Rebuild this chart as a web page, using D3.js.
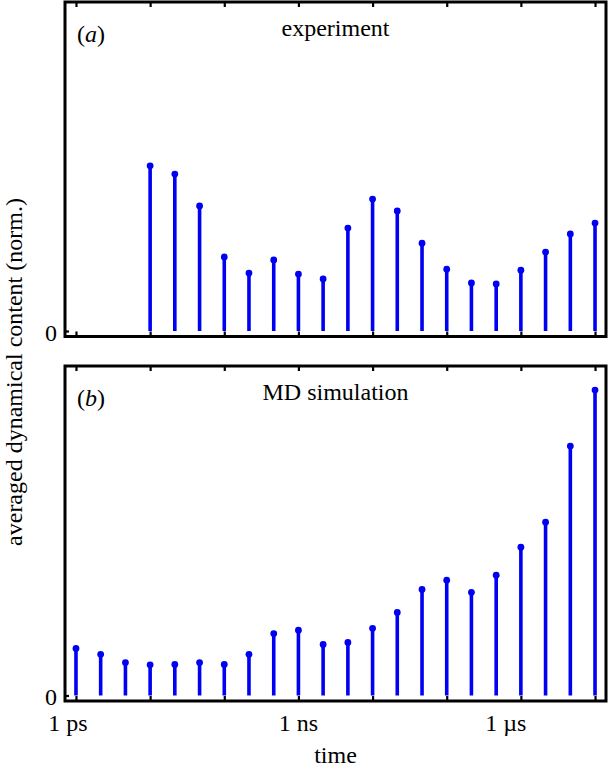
<!DOCTYPE html>
<html>
<head>
<meta charset="utf-8">
<script src="https://cdn.jsdelivr.net/npm/d3@7/dist/d3.min.js"></script>
<style>
  html, body { margin: 0; padding: 0; background: #fff; }
  svg { display: block; }
</style>
</head>
<body>
<svg id="chart" width="608" height="771"></svg>
<script>
// ---- data ----
const logTimesA = [-11, -10.667, -10.333, -10, -9.667, -9.333, -9, -8.667, -8.333, -8, -7.667, -7.333, -7, -6.667, -6.333, -6, -5.667, -5.333, -5];
const valuesA   = [0.502, 0.477, 0.380, 0.225, 0.176, 0.216, 0.173, 0.158, 0.313, 0.401, 0.365, 0.267, 0.188, 0.146, 0.143, 0.185, 0.240, 0.295, 0.328];

const logTimesB = [-12, -11.667, -11.333, -11, -10.667, -10.333, -10, -9.667, -9.333, -9, -8.667, -8.333, -8, -7.667, -7.333, -7, -6.667, -6.333, -6, -5.667, -5.333, -5];
const valuesB   = [0.143, 0.125, 0.100, 0.093, 0.094, 0.100, 0.094, 0.125, 0.188, 0.198, 0.155, 0.161, 0.204, 0.252, 0.322, 0.350, 0.313, 0.365, 0.450, 0.526, 0.757, 0.927];

const decadeTicks = [1e-12, 1e-11, 1e-10, 1e-9, 1e-8, 1e-7, 1e-6, 1e-5];
const labelTicks  = [1e-12, 1e-9, 1e-6];
const labelTexts  = ["1 ps", "1 ns", "1 µs"];
const labelShift  = [-8, 0, -15];

const panels = [
  { id: "a", tag: "a", title: "experiment",    times: logTimesA, values: valuesA, top: 2,   bottom: 336.5 },
  { id: "b", tag: "b", title: "MD simulation", times: logTimesB, values: valuesB, top: 366, bottom: 701 }
];

// ---- layout ----
const left = 65, right = 606;
const blue = "#0000f2";
const fontSize = 24;
const serif = "'Liberation Serif', Tinos, 'Times New Roman', Times, 'DejaVu Serif', serif";

const svg = d3.select("#chart")
  .attr("font-family", serif);

const x = d3.scaleLog()
  .domain([Math.pow(10, -12.148), Math.pow(10, -4.852)])
  .range([left, right]);

panels.forEach(p => {
  const y = d3.scaleLinear()
    .domain([-0.0167, 1.0])
    .range([p.bottom, p.top]);

  const g = svg.append("g");

  // stems
  const pts = p.times.map((t, i) => ({ t: Math.pow(10, t), v: p.values[i] }));
  g.selectAll("line.stem").data(pts).enter().append("line")
    .attr("class", "stem")
    .attr("x1", d => x(d.t)).attr("x2", d => x(d.t))
    .attr("y1", y(0)).attr("y2", d => y(d.v))
    .attr("stroke", blue).attr("stroke-width", 3.6);
  g.selectAll("circle.dot").data(pts).enter().append("circle")
    .attr("class", "dot")
    .attr("cx", d => x(d.t)).attr("cy", d => y(d.v))
    .attr("r", 3.4).attr("fill", blue);

  // decade ticks (inward) on top and bottom
  const topAxis = d3.axisTop(x).tickValues(decadeTicks).tickSize(-5).tickFormat("");
  const botAxis = d3.axisBottom(x).tickValues(decadeTicks).tickSize(-5).tickFormat("");
  const ta = g.append("g").attr("transform", `translate(0,${p.top})`).call(topAxis);
  const ba = g.append("g").attr("transform", `translate(0,${p.bottom})`).call(botAxis);
  [ta, ba].forEach(a => {
    a.select(".domain").remove();
    a.selectAll(".tick line").attr("stroke", "#000").attr("stroke-width", 2.2);
  });

  // y axis: only the zero tick
  const yAxis = d3.axisLeft(y).tickValues([0]).tickSize(-4).tickFormat("");
  const ya = g.append("g").attr("transform", `translate(${left},0)`).call(yAxis);
  ya.select(".domain").remove();
  ya.selectAll(".tick line").attr("stroke", "#000").attr("stroke-width", 2.2);
  g.append("text")
    .attr("x", 57).attr("y", y(0) + 2)
    .attr("text-anchor", "end").attr("dominant-baseline", "central")
    .attr("font-family", serif)
    .attr("font-size", fontSize).text("0");

  // frame
  g.append("rect")
    .attr("x", left).attr("y", p.top)
    .attr("width", right - left).attr("height", p.bottom - p.top)
    .attr("fill", "none").attr("stroke", "#000").attr("stroke-width", 3);

  // panel tag and title
  const tag = g.append("text")
    .attr("x", 77).attr("y", p.top + 40)
    .attr("font-family", serif)
    .attr("font-size", fontSize);
  tag.append("tspan").text("(");
  tag.append("tspan").attr("font-style", "italic").text(p.tag);
  tag.append("tspan").text(")");

  g.append("text")
    .attr("x", (left + right) / 2).attr("y", p.top + 34)
    .attr("text-anchor", "middle")
    .attr("font-family", serif)
    .attr("font-size", fontSize).text(p.title);
});

// x tick labels (bottom panel)
svg.append("g").selectAll("text").data(labelTicks).enter().append("text")
  .attr("x", (d, i) => x(d) + labelShift[i])
  .attr("y", 731)
  .attr("text-anchor", "middle")
  .attr("font-family", serif)
  .attr("font-size", fontSize)
  .text((d, i) => labelTexts[i]);

// axis titles
svg.append("text")
  .attr("x", (left + right) / 2).attr("y", 763)
  .attr("text-anchor", "middle")
  .attr("font-family", serif)
  .attr("font-size", fontSize).text("time");

svg.append("text")
  .attr("transform", "translate(22,372) rotate(-90)")
  .attr("text-anchor", "middle")
  .attr("font-family", serif)
  .attr("font-size", fontSize).text("averaged dynamical content (norm.)");
</script>
</body>
</html>
